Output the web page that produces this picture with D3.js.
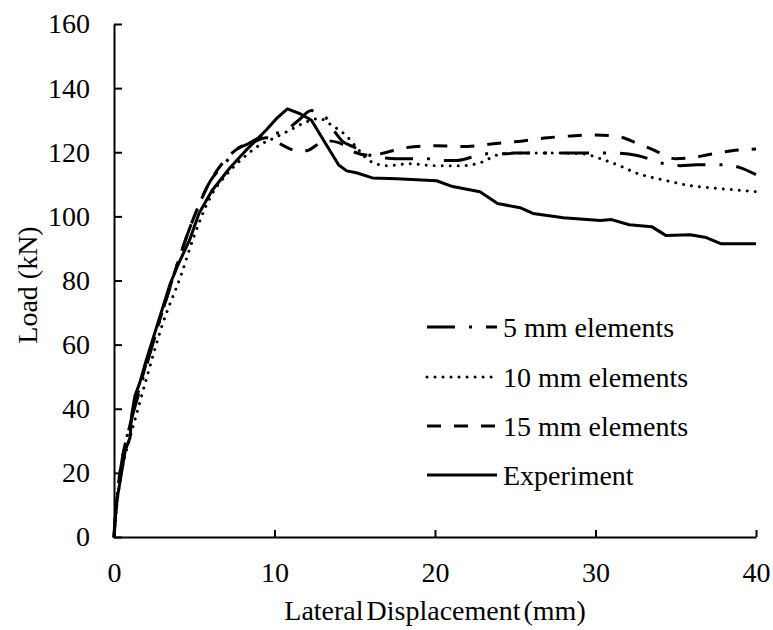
<!DOCTYPE html>
<html>
<head>
<meta charset="utf-8">
<script src="https://cdn.jsdelivr.net/npm/d3@7"></script>
<style>
  body { margin: 0; background: #fff; }
  svg text { font-family: "Liberation Serif", Tinos, "Times New Roman", "DejaVu Serif", serif !important; fill: #000; }
</style>
</head>
<body>
<div id="chart"></div>
<script>
const width = 773;
const height = 630;

// displacement (mm) / load (kN)
const expX = [0, 0.05, 0.2, 0.4, 0.7, 1.0, 1.1, 1.3, 1.6, 2.0, 2.5, 3.0, 3.5, 4.0, 4.7, 5.3, 6.1, 7.2, 8.2, 9.0, 9.5, 10.1, 10.8, 11.6, 12.3, 13.2, 14.0, 14.5, 15.1, 16.1, 17.6, 20.1, 21.1, 22.8, 23.9, 25.3, 26.1, 28.0, 30.3, 31.0, 32.1, 33.5, 34.4, 35.9, 36.9, 37.8, 40];
const expY = [0, 5, 12, 18, 27, 31, 38, 44, 48, 55, 63, 71, 79, 85, 92.5, 101, 108, 115, 120.5, 124.5, 127, 130.4, 133.5, 132, 130, 122.6, 116, 114.2, 113.6, 112, 111.7, 111.1, 109.3, 107.7, 104, 102.7, 100.9, 99.6, 98.7, 99, 97.4, 96.8, 94, 94.3, 93.4, 91.5, 91.5];

const m5X = [0, 0.2, 0.5, 1.0, 1.5, 2.0, 3.0, 4.0, 5.0, 6.0, 7.0, 7.4, 8.3, 9.3, 9.8, 10.6, 11.5, 12.3, 13.0, 13.6, 14.2, 15.0, 15.7, 16.5, 17.6, 19.5, 20.4, 21.3, 23.2, 24.4, 25.0, 31.0, 32.6, 34.3, 35.3, 36.3, 38.1, 39.0, 40];
const m5Y = [0, 13, 24, 35, 44, 53, 70, 86, 100, 111, 117, 120, 122.5, 125, 125.7, 126.5, 130, 133, 132, 127.5, 123.6, 121.5, 119.5, 118.5, 118, 118, 117.4, 117.4, 119.5, 119.5, 119.8, 119.8, 119, 116.4, 115.8, 116.1, 116.1, 115.2, 113];

const m10X = [0, 0.2, 0.5, 1.0, 1.5, 2.0, 3.0, 4.2, 5.0, 6.0, 7.0, 8.0, 9.0, 10.0, 11.0, 12.0, 12.8, 13.6, 14.5, 15.2, 15.9, 17.0, 18.4, 20.0, 21.7, 22.8, 24.0, 25.2, 27.0, 29.2, 30.3, 31.5, 32.5, 34.2, 35.9, 37.9, 40];
const m10Y = [0, 11, 21, 31, 40, 49, 66, 82, 94, 106, 113, 118, 122, 124.5, 127, 129.5, 130.5, 128.3, 125, 121, 117.4, 115.8, 116.4, 115.8, 115.8, 116.7, 119.3, 119.8, 119.8, 119.5, 118, 115.8, 113.6, 111.4, 109.6, 108.6, 107.7];

const m15X = [0, 0.2, 0.5, 1.0, 1.5, 2.0, 3.0, 4.0, 5.0, 6.0, 7.0, 8.0, 8.6, 9.5, 10.2, 11.0, 11.5, 12.0, 13.2, 14.0, 15.0, 16.0, 17.0, 18.0, 20.0, 22.0, 23.5, 25.0, 27.0, 28.5, 30.0, 31.5, 32.5, 33.5, 35.0, 36.0, 37.0, 38.5, 40];
const m15Y = [0, 13, 24, 35, 45, 54, 70, 86, 100, 111, 118, 122, 123, 124.5, 123, 121, 120.3, 120.5, 123.6, 123, 120, 119, 120, 121.3, 122, 121.8, 122.6, 123.3, 124.5, 125.1, 125.4, 124.8, 123, 121, 118, 118.3, 119.2, 120.5, 121];

const seriesNames = ["5 mm elements", "10 mm elements", "15 mm elements", "Experiment"];
const xTicks = [0, 10, 20, 30, 40];
const yTicks = [0, 20, 40, 60, 80, 100, 120, 140, 160];

const zip = (xs, ys) => xs.map((x, i) => ({ x: x, y: ys[i] }));

const series = [
  { name: seriesNames[0], pts: zip(m5X, m5Y), dash: "28 14 3 14", cap: "butt", curve: d3.curveMonotoneX },
  { name: seriesNames[1], pts: zip(m10X, m10Y), dash: "0.01 8", cap: "round", curve: d3.curveMonotoneX },
  { name: seriesNames[2], pts: zip(m15X, m15Y), dash: "14 13", cap: "butt", curve: d3.curveMonotoneX },
  { name: seriesNames[3], pts: zip(expX, expY), dash: null, cap: "butt", curve: d3.curveLinear },
];

const margin = { left: 114, top: 24, right: width - 756, bottom: height - 537 };

const svg = d3.select("#chart").append("svg")
  .attr("width", width)
  .attr("height", height);

const x = d3.scaleLinear().domain([0, 40]).range([margin.left, width - margin.right]);
const y = d3.scaleLinear().domain([0, 160]).range([height - margin.bottom, margin.top]);

// axes, ticks drawn inward
const xAxis = svg.append("g")
  .attr("transform", `translate(0,${y(0)})`)
  .call(d3.axisBottom(x).tickValues(xTicks).tickSizeInner(-7).tickSizeOuter(0).tickPadding(25));

const yAxis = svg.append("g")
  .attr("transform", `translate(${x(0)},0)`)
  .call(d3.axisLeft(y).tickValues(yTicks).tickSizeInner(-8).tickSizeOuter(0).tickPadding(24));

[xAxis, yAxis].forEach((g) => {
  g.attr("font-family", null).attr("font-size", null);
  g.select(".domain").attr("stroke", "#000").attr("stroke-width", 2);
  g.selectAll(".tick line").attr("stroke", "#000").attr("stroke-width", 2);
  g.selectAll(".tick text")
    .style("font-size", "28px")
    .attr("fill", "#000");
});

series.forEach((s) => {
  const line = d3.line()
    .x((d) => x(d.x))
    .y((d) => y(d.y))
    .curve(s.curve);
  svg.append("path")
    .datum(s.pts)
    .attr("fill", "none")
    .attr("stroke", "#000")
    .attr("stroke-width", 3)
    .attr("stroke-linecap", s.cap)
    .attr("stroke-linejoin", "round")
    .attr("stroke-dasharray", s.dash)
    .attr("d", line);
});

// legend
const legend = svg.append("g");
const rowY = [327, 377, 426, 475];
series.forEach((s, i) => {
  legend.append("line")
    .attr("x1", 427).attr("x2", 497)
    .attr("y1", rowY[i]).attr("y2", rowY[i])
    .attr("stroke", "#000")
    .attr("stroke-width", 3)
    .attr("stroke-linecap", s.cap)
    .attr("stroke-dasharray", s.dash);
  legend.append("text")
    .attr("x", 503)
    .attr("y", rowY[i])
    .attr("dy", "0.35em")
    .style("font-size", "28px")
    .text(s.name);
});

// axis titles
svg.append("text")
  .attr("x", (x(0) + x(40)) / 2)
  .attr("y", 620)
  .attr("text-anchor", "middle")
  .style("font-size", "28px")
  .style("word-spacing", "-4px")
  .text("Lateral Displacement (mm)");

svg.append("text")
  .attr("transform", `translate(37,${285}) rotate(-90)`)
  .attr("text-anchor", "middle")
  .style("font-size", "28px")
  .text("Load (kN)");
</script>
</body>
</html>
